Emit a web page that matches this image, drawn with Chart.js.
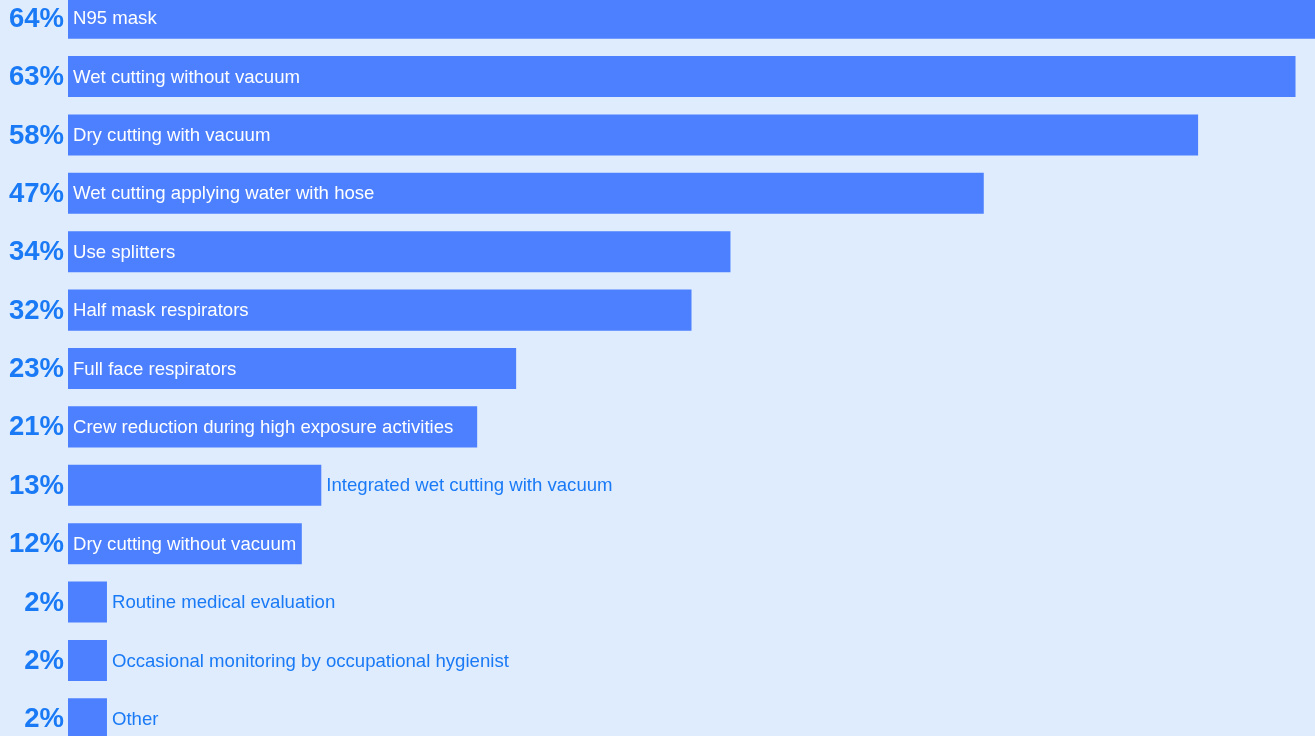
<!DOCTYPE html>
<html>
<head>
<meta charset="utf-8">
<script src="https://cdn.jsdelivr.net/npm/chart.js@4"></script>
<style>
  html, body { margin: 0; padding: 0; background: #dfecfd; overflow: hidden; }
  #wrap { position: absolute; left: 0; top: -11px; width: 1315px; height: 759px; }
</style>
</head>
<body>
<div id="wrap"><canvas id="chart"></canvas></div>
<script>
const categories = [
  "N95 mask",
  "Wet cutting without vacuum",
  "Dry cutting with vacuum",
  "Wet cutting applying water with hose",
  "Use splitters",
  "Half mask respirators",
  "Full face respirators",
  "Crew reduction during high exposure activities",
  "Integrated wet cutting with vacuum",
  "Dry cutting without vacuum",
  "Routine medical evaluation",
  "Occasional monitoring by occupational hygienist",
  "Other"
];
const values = [64, 63, 58, 47, 34, 32, 23, 21, 13, 12, 2, 2, 2];

const barColor = "#4d80ff";
const textBlue = "#1a7af6";

// labels: percent on the left, name inside the bar if it fits, else after it
const barLabels = {
  id: "barLabels",
  afterDatasetsDraw(chart) {
    const { ctx } = chart;
    const meta = chart.getDatasetMeta(0);
    ctx.save();
    ctx.textBaseline = "middle";
    meta.data.forEach((bar, i) => {
      const left = bar.base;
      const right = bar.x;
      const y = bar.y;
      // percent
      ctx.font = "bold 27.5px 'Liberation Sans', Arial, sans-serif";
      ctx.fillStyle = textBlue;
      ctx.textAlign = "right";
      ctx.fillText(values[i] + "%", left - 4, y + 1);
      // name
      ctx.font = "18.6px 'Liberation Sans', Arial, sans-serif";
      ctx.textAlign = "left";
      const w = ctx.measureText(categories[i]).width;
      if (w + 10 <= right - left) {
        ctx.fillStyle = "#ffffff";
        ctx.fillText(categories[i], left + 5, y + 1);
      } else {
        ctx.fillStyle = textBlue;
        ctx.fillText(categories[i], right + 5, y + 1);
      }
    });
    ctx.restore();
  }
};

new Chart(document.getElementById("chart"), {
  type: "bar",
  data: {
    labels: categories,
    datasets: [{
      data: values,
      backgroundColor: barColor,
      borderWidth: 0,
      barPercentage: 0.703,
      categoryPercentage: 1
    }]
  },
  options: {
    indexAxis: "y",
    responsive: true,
    maintainAspectRatio: false,
    animation: false,
    layout: { padding: { left: 68, right: 0, top: 0, bottom: 0 } },
    scales: {
      x: { display: false, min: 0, max: 64 },
      y: { display: false }
    },
    plugins: {
      legend: { display: false },
      tooltip: { enabled: false }
    }
  },
  plugins: [barLabels]
});
</script>
</body>
</html>
